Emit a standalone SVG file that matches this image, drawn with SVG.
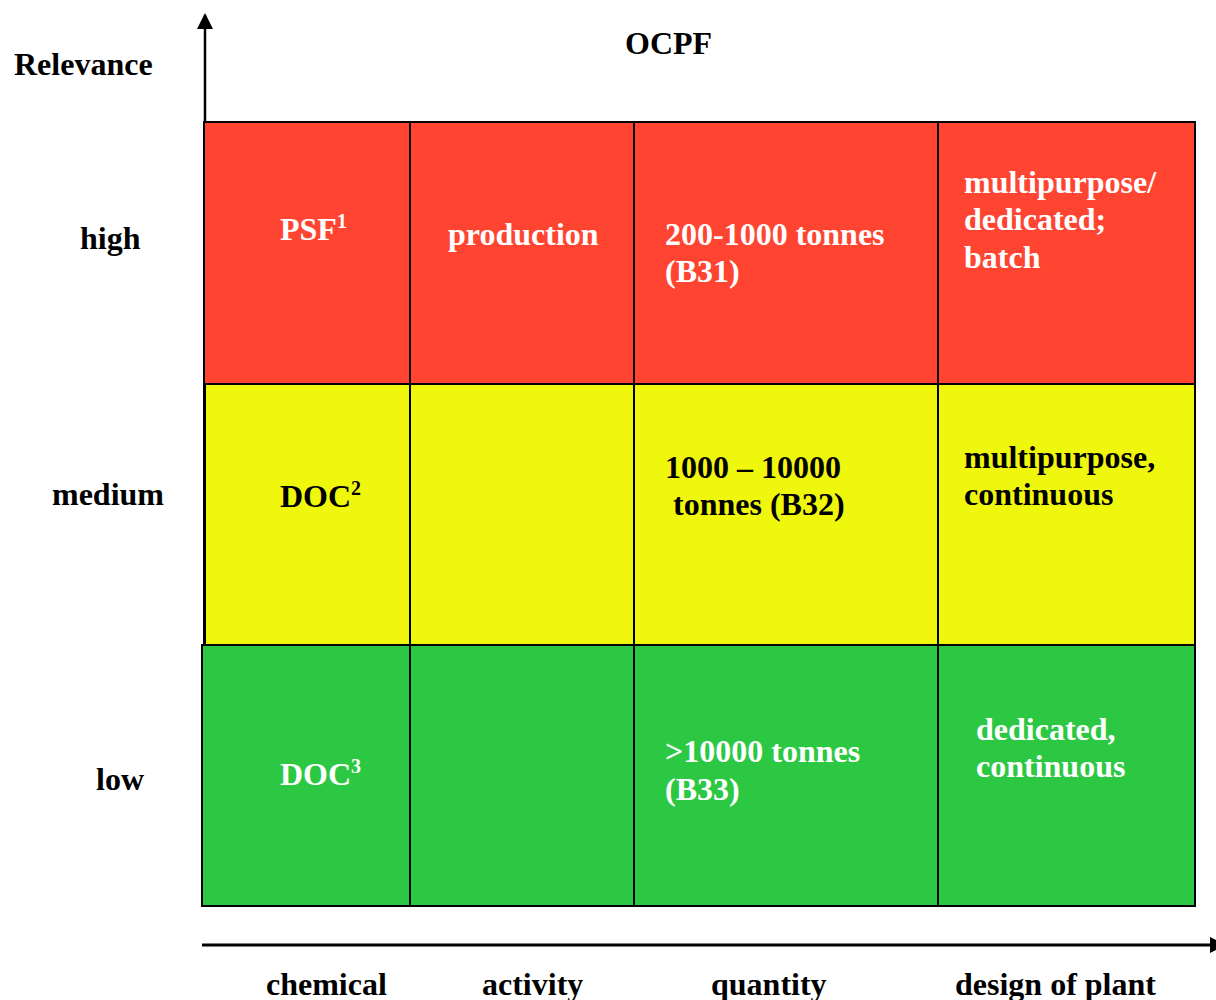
<svg xmlns="http://www.w3.org/2000/svg" width="1216" height="1000" viewBox="0 0 1216 1000">
<style>
text{font-family:"Liberation Serif","Times New Roman",serif;font-weight:bold;font-size:32px}
.w{fill:#ffffff}.k{fill:#000000}
.sup{font-size:20px}
.cell{stroke:#000;stroke-width:2}
.ax{stroke:#000;stroke-width:3;fill:none}
</style>
<defs>
<marker id="ah" markerWidth="16" markerHeight="16" refX="14" refY="8" orient="auto" markerUnits="userSpaceOnUse" viewBox="0 0 16 16">
<path d="M0,0 L16,8 L0,16 z" fill="#000"/>
</marker>
</defs>
<g id="connectors">
<line class="ax" x1="205" y1="122" x2="205" y2="15" marker-end="url(#ah)" style="stroke-width:2.5"/>
<line class="ax" x1="202" y1="945" x2="1224" y2="945" marker-end="url(#ah)"/>
</g>
<g id="row-high">
<rect class="cell" x="204" y="122" width="206" height="262" fill="#FF4431"/>
<rect class="cell" x="410" y="122" width="224" height="262" fill="#FF4431"/>
<rect class="cell" x="634" y="122" width="304" height="262" fill="#FF4431"/>
<rect class="cell" x="938" y="122" width="257" height="262" fill="#FF4431"/>
</g>
<g id="row-medium">
<rect class="cell" x="204" y="384" width="206" height="261" fill="#EFF70C"/>
<rect class="cell" x="410" y="384" width="224" height="261" fill="#EFF70C"/>
<rect class="cell" x="634" y="384" width="304" height="261" fill="#EFF70C"/>
<rect class="cell" x="938" y="384" width="257" height="261" fill="#EFF70C"/>
<line x1="204.5" y1="384" x2="204.5" y2="645" stroke="#000" stroke-width="3"/>
</g>
<g id="row-low">
<rect class="cell" x="202" y="645" width="208" height="261" fill="#2DC843"/>
<rect class="cell" x="410" y="645" width="224" height="261" fill="#2DC843"/>
<rect class="cell" x="634" y="645" width="304" height="261" fill="#2DC843"/>
<rect class="cell" x="938" y="645" width="257" height="261" fill="#2DC843"/>
</g>
<g id="axis-labels">
<text class="k" x="14" y="75">Relevance</text>
<text class="k" x="625" y="54">OCPF</text>
<text class="k" x="80" y="249">high</text>
<text class="k" x="52" y="505">medium</text>
<text class="k" x="96" y="790">low</text>
<text class="k" x="266" y="995">chemical</text>
<text class="k" x="482" y="995">activity</text>
<text class="k" x="711" y="995">quantity</text>
<text class="k" x="955" y="995">design of plant</text>
</g>
<g id="cell-texts-high">
<text class="w" x="280" y="240">PSF<tspan class="sup" dy="-12">1</tspan></text>
<text class="w" x="448" y="245">production</text>
<text class="w" x="665" y="245">200-1000 tonnes</text>
<text class="w" x="665" y="282">(B31)</text>
<text class="w" x="964" y="193">multipurpose/</text>
<text class="w" x="964" y="230">dedicated;</text>
<text class="w" x="964" y="268">batch</text>
</g>
<g id="cell-texts-medium">
<text class="k" x="280" y="507">DOC<tspan class="sup" dy="-12">2</tspan></text>
<text class="k" x="665" y="478">1000 – 10000</text>
<text class="k" x="673" y="515">tonnes (B32)</text>
<text class="k" x="964" y="468">multipurpose,</text>
<text class="k" x="964" y="505">continuous</text>
</g>
<g id="cell-texts-low">
<text class="w" x="280" y="785">DOC<tspan class="sup" dy="-12">3</tspan></text>
<text class="w" x="665" y="762">&gt;10000 tonnes</text>
<text class="w" x="665" y="800">(B33)</text>
<text class="w" x="976" y="740">dedicated,</text>
<text class="w" x="976" y="777">continuous</text>
</g>
</svg>
